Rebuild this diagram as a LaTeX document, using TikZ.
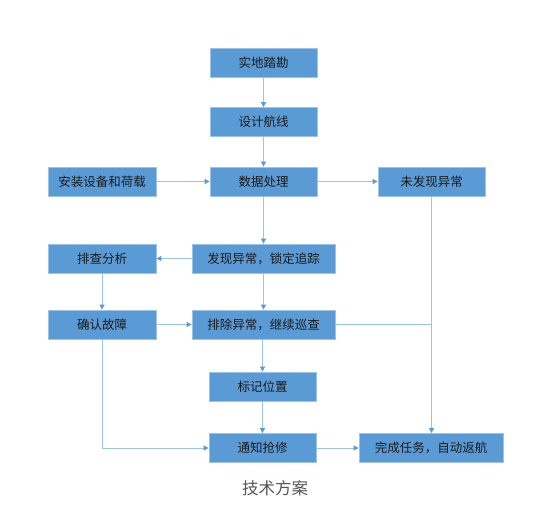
\documentclass[tikz,border=0pt]{standalone}
\usepackage{fontspec}
\newfontfamily\cjk{Noto Sans CJK SC}
\usetikzlibrary{arrows.meta}
\definecolor{boxfill}{HTML}{5B9BD5}
\definecolor{boxline}{HTML}{9DC3E6}
\definecolor{conn}{HTML}{9DC3E6}
\definecolor{tip}{HTML}{5B9BD5}
\definecolor{txt}{HTML}{1A1A1A}
\definecolor{cap}{HTML}{555555}
\tikzset{
  px/.style={x=1pt,y=-1pt},
  flowbox/.style={draw=boxline, line width=0.8pt, fill=boxfill, text=txt, inner sep=0pt,
    font=\cjk\fontsize{12.5}{14}\selectfont, minimum height=29pt},
  narrow/.style={flowbox, minimum width=107pt},
  wide/.style={flowbox, minimum width=143pt},
  wideb/.style={flowbox, minimum width=144pt},
  link/.style={draw=conn, line width=0.9pt},
  arr/.style={link, -{Triangle[length=5pt,width=5pt,fill=tip,color=tip]}},
}
\begin{document}
\begin{tikzpicture}[px]
\useasboundingbox (0,0) rectangle (549,524);
\fill[white] (0,0) rectangle (549,524);
\node[narrow] (a) at (263.5,62.5) {实地踏勘};
\node[narrow] (b) at (263.5,122) {设计航线};
\node[minimum width=108pt, flowbox] (c) at (102,181.5) {安装设备和荷载};
\node[narrow] (d) at (263.5,181.5) {数据处理};
\node[narrow] (e) at (431.5,181.5) {未发现异常};
\node[minimum width=108pt, flowbox] (f) at (102,258.5) {排查分析};
\node[wide] (g) at (263.5,258.5) {发现异常，锁定追踪};
\node[minimum width=108pt, flowbox] (h) at (102,324.5) {确认故障};
\node[wide] (i) at (263.5,324.5) {排除异常，继续巡查};
\node[narrow] (j) at (262.5,386.5) {标记位置};
\node[narrow] (k) at (262.5,448) {通知抢修};
\node[wideb] (l) at (431,448) {完成任务，自动返航};
\node[font=\cjk\fontsize{16.5}{18}\selectfont, text=cap, inner sep=0pt] (cap) at (275,488) {技术方案};
\coordinate (m) at (e.south |- i.east);
\coordinate (n) at (h.south |- k.west);
\draw[arr] (a) -- (b);
\draw[arr] (b) -- (d);
\draw[arr] (c) -- (d);
\draw[arr] (d) -- (e);
\draw[arr] (d.south) -- (g.north -| d.south);
\draw[arr] (g) -- (f);
\draw[arr] (f) -- (h);
\draw[arr] (g) -- (i);
\draw[arr] (h) -- (i);
\draw[arr] (i.south -| j.north) -- (j);
\draw[arr] (j) -- (k);
\draw[arr] (k) -- (l);
\draw[link] (i.east) -- (m);
\draw[arr] (e.south) -- (e.south |- l.north);
\draw[arr] (h.south) -- (n) -- (k.west);
\end{tikzpicture}
\end{document}
